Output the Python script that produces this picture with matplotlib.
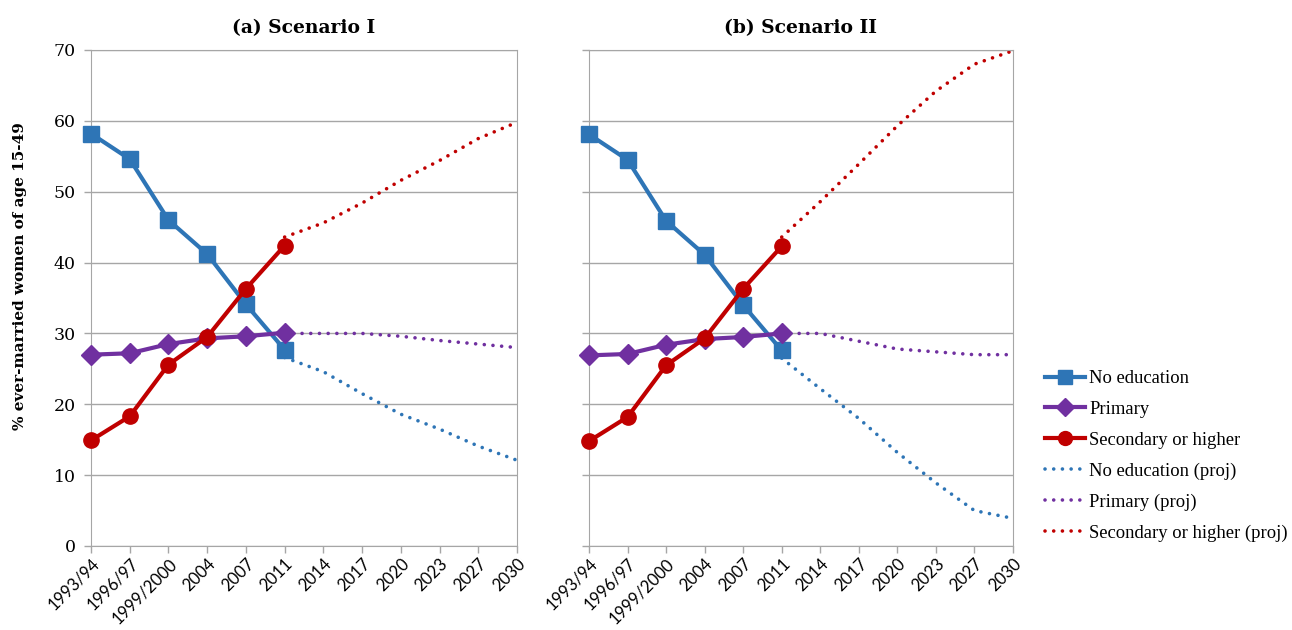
import numpy as np
import matplotlib.pyplot as plt
from matplotlib.lines import Line2D

years = ["1993/94", "1996/97", "1999/2000", "2004", "2007", "2011",
         "2014", "2017", "2020", "2023", "2027", "2030"]

# observed (same in both panels, read from each)
no_edu_a = [58.2, 54.6, 46.0, 41.2, 34.1, 27.7]
primary_a = [27.0, 27.2, 28.5, 29.3, 29.6, 30.1]
secondary_a = [14.9, 18.3, 25.6, 29.5, 36.3, 42.4]

no_edu_b = [58.1, 54.5, 45.9, 41.1, 34.0, 27.6]
primary_b = [26.9, 27.1, 28.4, 29.2, 29.5, 30.0]
secondary_b = [14.8, 18.2, 25.5, 29.3, 36.3, 42.3]

# projections, 2011..2030
no_edu_proj_a = [26.6, 24.6, 21.5, 18.6, 16.5, 14.1, 12.1]
primary_proj_a = [30.0, 30.0, 30.0, 29.6, 29.0, 28.5, 28.0]
secondary_proj_a = [43.6, 45.6, 48.4, 51.6, 54.4, 57.5, 59.8]

no_edu_proj_b = [26.5, 22.2, 18.0, 13.2, 8.9, 5.0, 3.9]
primary_proj_b = [30.0, 30.0, 28.9, 27.8, 27.4, 27.0, 27.0]
secondary_proj_b = [43.6, 48.6, 53.9, 59.3, 64.2, 68.0, 69.9]

BLUE = "#2E75B6"
PURPLE = "#7030A0"
RED = "#C00000"
GRID = "#A6A6A6"

plt.rcParams["font.family"] = ["DejaVu Serif"]

fig = plt.figure(figsize=(12.92, 6.30), dpi=100)
ax_a = fig.add_axes([91/1292, 84/630, 426/1292, 496/630])
ax_b = fig.add_axes([589/1292, 84/630, 424/1292, 496/630])

x = np.arange(len(years))
x_obs = x[:6]
x_proj = x[5:]
dots = (0, (0.01, 2.4))

panels = [
    (ax_a, "(a) Scenario I", no_edu_a, primary_a, secondary_a,
     no_edu_proj_a, primary_proj_a, secondary_proj_a),
    (ax_b, "(b) Scenario II", no_edu_b, primary_b, secondary_b,
     no_edu_proj_b, primary_proj_b, secondary_proj_b),
]

for ax, title, ne, pr, se, ne_p, pr_p, se_p in panels:
    ax.plot(x_proj, ne_p, color=BLUE, lw=2.6, ls=dots, dash_capstyle="round", zorder=2)
    ax.plot(x_proj, pr_p, color=PURPLE, lw=2.6, ls=dots, dash_capstyle="round", zorder=2)
    ax.plot(x_proj, se_p, color=RED, lw=2.6, ls=dots, dash_capstyle="round", zorder=2)
    ax.plot(x_obs, ne, color=BLUE, lw=3, marker="s", ms=11, zorder=3)
    ax.plot(x_obs, pr, color=PURPLE, lw=3, marker="D", ms=10, zorder=3)
    ax.plot(x_obs, se, color=RED, lw=3, marker="o", ms=11, zorder=3)

    ax.set_xlim(0, 11)
    ax.set_ylim(0, 70)
    ax.set_yticks(range(0, 71, 10))
    ax.set_xticks(x)
    ax.set_xticklabels(years, rotation=45, ha="right", rotation_mode="anchor",
                       family="Lato", fontsize=12)
    ax.yaxis.grid(True, color=GRID, lw=1)
    ax.set_axisbelow(True)
    for s in ax.spines.values():
        s.set_color(GRID)
    ax.tick_params(axis="both", color=GRID, length=5, width=1)
    ax.tick_params(axis="x", pad=2)
    ax.tick_params(axis="y", labelsize=12.5, pad=6)
    ax.set_title(title, fontsize=13.5, fontweight="bold", pad=12)
    for ln in ax.lines:
        ln.set_clip_on(False)

ax_b.set_yticklabels([])

fig.text(20/1292, 1 - 276/630, "% ever-married women of age 15-49",
         rotation=90, ha="center", va="center", fontsize=11, fontweight="bold")

handles = [
    Line2D([], [], color=BLUE, lw=3, marker="s", ms=10),
    Line2D([], [], color=PURPLE, lw=3, marker="D", ms=9),
    Line2D([], [], color=RED, lw=3, marker="o", ms=10),
    Line2D([], [], color=BLUE, lw=2.6, ls=dots, dash_capstyle="round"),
    Line2D([], [], color=PURPLE, lw=2.6, ls=dots, dash_capstyle="round"),
    Line2D([], [], color=RED, lw=2.6, ls=dots, dash_capstyle="round"),
]
labels = ["No education", "Primary", "Secondary or higher",
          "No education (proj)", "Primary (proj)", "Secondary or higher (proj)"]
fig.legend(handles, labels, loc="center left",
           bbox_to_anchor=(1038/1292, 1 - 456/630), frameon=False,
           prop={"family": "Liberation Serif", "size": 13.4},
           handlelength=2.15, handletextpad=0.2,
           labelspacing=0.74, borderaxespad=0)

fig.savefig("out.png", dpi=100)
